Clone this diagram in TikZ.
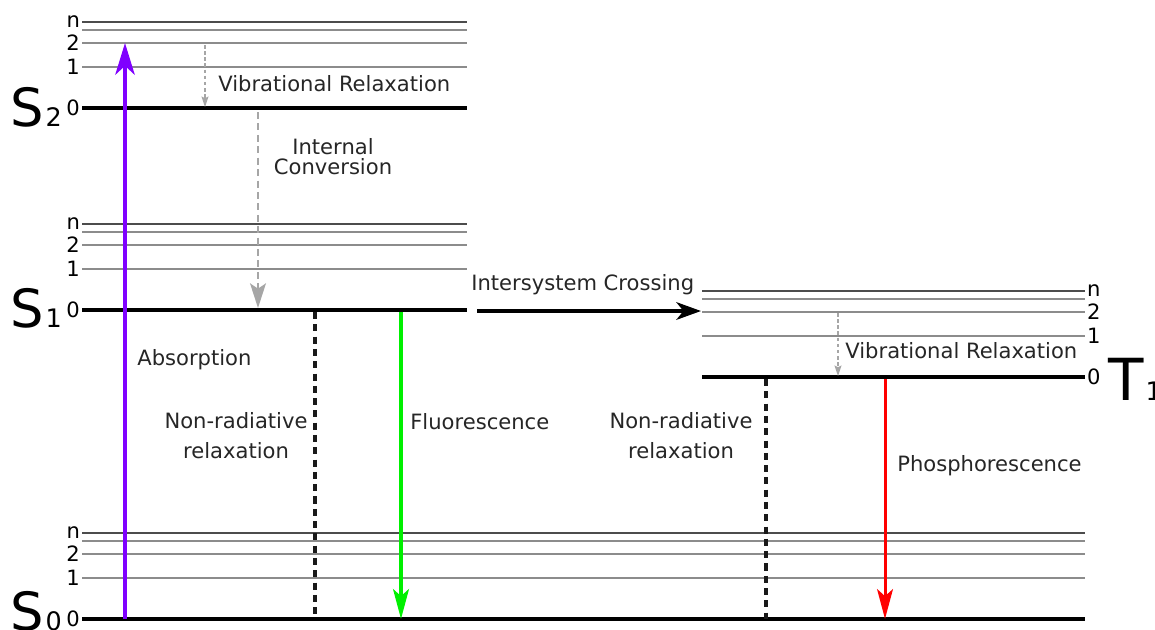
\documentclass[tikz,border=0pt]{standalone}
\usepackage{fontspec}
\setmainfont{DejaVu Sans}
\usetikzlibrary{arrows.meta}
\definecolor{absviolet}{HTML}{7F00FF}
\definecolor{fluogreen}{HTML}{00F000}
\definecolor{phosred}{HTML}{FF0000}
\newcommand{\statesub}[1]{\kern1pt{\fontsize{14.5}{14.5}\selectfont #1}}
\tikzset{
  lvln/.style={draw=black!70,line width=0.7pt},
  lvl/.style={draw=black!45,line width=1pt},
  lvlzero/.style={draw=black,line width=2.3pt},
  vnum/.style={inner sep=0pt,font=\fontsize{12}{12}\selectfont},
  state/.style={inner sep=0pt,anchor=base west,font=\fontsize{30}{30}\selectfont},
  lbl/.style={inner sep=0pt,text=black!85,font=\fontsize{12}{17}\selectfont},
  radiative/.style={line width=2.1pt,-{Stealth[length=17pt,width=9pt,inset=4pt]}},
  nonrad/.style={black!90,line width=1.8pt,dash pattern=on 4pt off 3pt},
  vibrelax/.style={black!35,line width=0.7pt,dash pattern=on 2pt off 1.5pt,
    -{Stealth[length=6pt,width=4pt,inset=1pt]}},
  intconv/.style={black!35,line width=1.3pt,dash pattern=on 4pt off 2.5pt,
    -{Stealth[length=14pt,width=9pt,inset=3pt]}}
}

\begin{document}
\begin{tikzpicture}[x=0.02cm,y=-0.02cm]
    \useasboundingbox (0,0) rectangle (1155,629);
    \foreach \s/\xa/\xb/\y in {s2/82/467/108,s1/82/467/310,s0/82/1085/619,t1/702/1085/377}{
        \draw[lvln] (\xa,\y-86) coordinate (\s-n) -- (\xb,\y-86) coordinate (\s-ne);
        \draw[lvl] (\xa,\y-78) -- (\xb,\y-78);
        \draw[lvl] (\xa,\y-65) coordinate (\s-2) -- (\xb,\y-65) coordinate (\s-2e);
        \draw[lvl] (\xa,\y-41) coordinate (\s-1) -- (\xb,\y-41) coordinate (\s-1e);
        \draw[lvlzero] (\xa,\y) coordinate (\s-0) -- (\xb,\y) coordinate (\s-0e);
    }
    \foreach \s in {s2,s1,s0}{
        \node[vnum,anchor=east] (\s-nlbl) at ([xshift=-1pt]\s-n) {n};
        \node[vnum,anchor=east] (\s-2lbl) at ([xshift=-1pt]\s-2) {2};
        \node[vnum,anchor=east] (\s-1lbl) at ([xshift=-1pt]\s-1) {1};
        \node[vnum,anchor=east] (\s-0lbl) at ([xshift=-1pt]\s-0) {0};
    }
    \node[vnum,anchor=west] (t1-nlbl) at ([xshift=1pt]t1-ne) {n};
    \node[vnum,anchor=west] (t1-2lbl) at ([xshift=1pt]t1-2e) {2};
    \node[vnum,anchor=west] (t1-1lbl) at ([xshift=1pt]t1-1e) {1};
    \node[vnum,anchor=west] (t1-0lbl) at ([xshift=1pt]t1-0e) {0};

    \node[state] (s2lbl) at (10,126) {S\statesub{2}};
    \node[state] (s1lbl) at (10,327) {S\statesub{1}};
    \node[state] (s0lbl) at (10,630) {S\statesub{0}};
    \node[state,font=\fontsize{33}{33}\selectfont] (t1lbl) at (1108,400) {T\statesub{1}};

    \coordinate (abs-a) at (125,619);
    \coordinate (abs-b) at (125,43);
    \coordinate (vr2-a) at (205,45);
    \coordinate (vr2-b) at (205,107);
    \coordinate (ic-a) at (258,112);
    \coordinate (ic-b) at (258,308);
    \coordinate (nr1-a) at (315,312);
    \coordinate (nr1-b) at (315,619);
    \coordinate (fl-a) at (401,312);
    \coordinate (fl-b) at (401,619);
    \coordinate (isc-a) at (477,311);
    \coordinate (isc-b) at (701,311);
    \coordinate (vrt-a) at (838,313);
    \coordinate (vrt-b) at (838,376);
    \coordinate (nrt-a) at (766,379);
    \coordinate (nrt-b) at (766,619);
    \coordinate (ph-a) at (885,379);
    \coordinate (ph-b) at (885,619);

    \draw[radiative,absviolet,line width=2.4pt,-{Stealth[length=18pt,width=11pt,inset=5pt]}] (abs-a) -- (abs-b);
    \draw[vibrelax] (vr2-a) -- (vr2-b);
    \draw[intconv] (ic-a) -- (ic-b);
    \draw[nonrad] (nr1-a) -- (nr1-b);
    \draw[radiative,fluogreen] (fl-a) -- (fl-b);
    \draw[black,line width=2pt,-{Stealth[length=14pt,width=10pt,inset=4pt]}] (isc-a) -- (isc-b);
    \draw[vibrelax] (vrt-a) -- (vrt-b);
    \draw[nonrad] (nrt-a) -- (nrt-b);
    \draw[radiative,phosred,line width=1.7pt] (ph-a) -- (ph-b);

    \node[lbl,anchor=west] (vr2lbl) at (218,84) {Vibrational Relaxation};
    \node[lbl,align=center,font=\fontsize{12}{11.5}\selectfont] (iclbl) at (333,157) {Internal\\Conversion};
    \node[lbl,anchor=west] (abslbl) at (137,360) {Absorption};
    \node[lbl,align=center] (nr1lbl) at (236,436) {Non-radiative\\relaxation};
    \node[lbl,anchor=west] (fllbl) at (410,422) {Fluorescence};
    \node[lbl,anchor=west] (isclbl) at (471,285) {Intersystem Crossing};
    \node[lbl,anchor=west] (vrtlbl) at (845,351) {Vibrational Relaxation};
    \node[lbl,align=center] (nrtlbl) at (681,436) {Non-radiative\\relaxation};
    \node[lbl,anchor=west] (phlbl) at (897,466) {Phosphorescence};
\end{tikzpicture}
\end{document}
